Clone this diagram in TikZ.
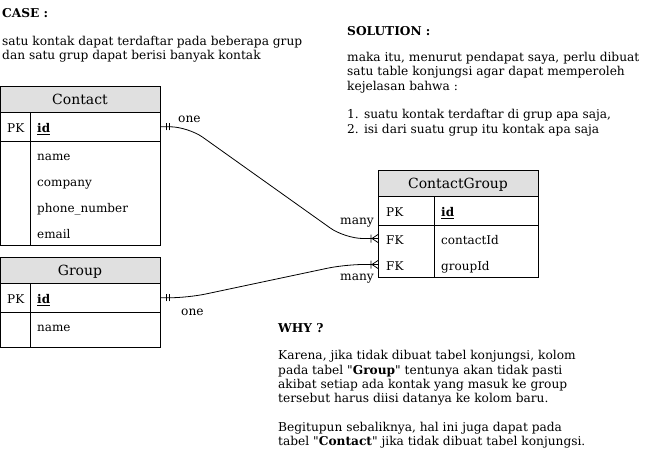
\documentclass[tikz,border=0pt]{standalone}
\usepackage{fontspec}
\setmainfont{DejaVu Serif}
\usetikzlibrary{positioning}
\definecolor{headgray}{HTML}{E0E0E0}
\tikzset{
  % multi-line texts: base = baseline of last line
  txt/.style = {align=left, inner sep=0pt, anchor=base west, font=\fontsize{12.2}{14.3}\selectfont},
  % table parts: header, key row, attribute block
  tbl/.style = {draw=black, line width=0.9pt, inner sep=0pt, outer sep=0pt},
  tbl_head/.style = {tbl, fill=headgray, minimum height=26pt, text height=10pt, text depth=0pt, font=\fontsize{14}{16}\selectfont},
  tbl_key/.style = {tbl, minimum height=29.5pt},
  field/.style = {inner sep=0pt, anchor=west, text height=12pt, text depth=0pt, font=\fontsize{12}{14}\selectfont},
  rel/.style = {draw=black, line width=0.8pt, rounded corners=18pt},
  % one / many ends
  mark_one/.pic = {\draw[line width=0.8pt] (6pt,-3.5pt) -- (6pt,3.5pt) (9pt,-3.5pt) -- (9pt,3.5pt);},
  mark_many/.pic = {\draw[line width=0.8pt] (-7pt,-4pt) -- (-7pt,4pt) (0pt,-4pt) -- (-6pt,0pt) -- (0pt,4pt);}
}
\newcommand{\qt}{\textquotedbl}

\begin{document}
\begin{tikzpicture}[x=1pt,y=-1pt]
  \useasboundingbox (0,0) rectangle (648,451);

  % Texts:
  \node[txt] (case) at (2,17) {\textbf{CASE :}};
  \node[txt] (case_text) at (2,59.3) {satu kontak dapat terdaftar pada beberapa grup\\dan satu grup dapat berisi banyak kontak};
  \node[txt] (solution) at (347,35) {\textbf{SOLUTION :}};
  \node[txt] (solution_text) at (347,133) {maka itu, menurut pendapat saya, perlu dibuat\\satu table konjungsi agar dapat memperoleh\\kejelasan bahwa :\\[14.3pt]1. suatu kontak terdaftar di grup apa saja,\\2. isi dari suatu grup itu kontak apa saja};
  \node[txt] (why) at (278,332.5) {\textbf{WHY ?}};
  \node[txt] (why_text) at (278,445.6) {Karena, jika tidak dibuat tabel konjungsi, kolom\\pada tabel \qt\textbf{Group}\qt{} tentunya akan tidak pasti\\akibat setiap ada kontak yang masuk ke group\\tersebut harus diisi datanya ke kolom baru.\\[14.3pt]Begitupun sebaliknya, hal ini juga dapat pada\\tabel \qt\textbf{Contact}\qt{} jika tidak dibuat tabel konjungsi.};

  % Contact table:
  \node[tbl_head, minimum width=160pt, anchor=north west] (contact) at (0,86) {Contact};
  \node[tbl_key, minimum width=160pt, below=0pt of contact] (contact_key) {};
  \node[tbl, minimum width=160pt, minimum height=104pt, below=0pt of contact_key] (contact_attr) {};
  \draw[tbl] ([xshift=30pt]contact_key.north west) -- ([xshift=30pt]contact_attr.south west);
  \node[field] (contact_pk) at ([xshift=7pt]contact_key.west) {PK};
  \node[field] (contact_id) at ([xshift=37pt]contact_key.west) {\underline{\textbf{id}}};
  \foreach \f [count=\i] in {name, company, phone\_number, email}
    \node[field] (contact_f\i) at ([xshift=37pt, yshift={-13pt-26pt*(\i-1)}]contact_attr.north west) {\f};

  % Group table:
  \node[tbl_head, minimum width=160pt, anchor=north west] (group) at (0,257) {Group};
  \node[tbl_key, minimum width=160pt, below=0pt of group] (group_key) {};
  \node[tbl, minimum width=160pt, minimum height=35pt, below=0pt of group_key] (group_attr) {};
  \draw[tbl] ([xshift=30pt]group_key.north west) -- ([xshift=30pt]group_attr.south west);
  \node[field] (group_pk) at ([xshift=7pt]group_key.west) {PK};
  \node[field] (group_id) at ([xshift=37pt]group_key.west) {\underline{\textbf{id}}};
  \node[field] (group_f1) at ([xshift=37pt, yshift=-13pt]group_attr.north west) {name};

  % ContactGroup table:
  \node[tbl_head, minimum width=160pt, anchor=north west] (cg) at (378,170) {ContactGroup};
  \node[tbl_key, minimum width=160pt, below=0pt of cg] (cg_key) {};
  \node[tbl, minimum width=160pt, minimum height=52pt, below=0pt of cg_key] (cg_attr) {};
  \draw[tbl] ([xshift=56pt]cg_key.north west) -- ([xshift=56pt]cg_attr.south west);
  \node[field] (cg_pk) at ([xshift=8pt]cg_key.west) {PK};
  \node[field] (cg_id) at ([xshift=63pt]cg_key.west) {\underline{\textbf{id}}};
  \node[field] (cg_fk1) at ([xshift=8pt, yshift=-13pt]cg_attr.north west) {FK};
  \node[field] (cg_f1) at ([xshift=63pt, yshift=-13pt]cg_attr.north west) {contactId};
  \node[field] (cg_fk2) at ([xshift=8pt, yshift=-39pt]cg_attr.north west) {FK};
  \node[field] (cg_f2) at ([xshift=63pt, yshift=-39pt]cg_attr.north west) {groupId};

  % Relations:
  \coordinate (cg_in1) at (cg_fk1 -| cg_attr.west);
  \coordinate (cg_in2) at (cg_fk2 -| cg_attr.west);
  \draw[rel] (contact_key.east) -- ++(28,0) -- ([xshift=-33pt]cg_in1) -- (cg_in1);
  \draw[rel] (group_key.east) -- ++(28,0) -- ([xshift=-33pt]cg_in2) -- (cg_in2);
  \pic at (contact_key.east) {mark_one};
  \pic at (group_key.east) {mark_one};
  \pic at (cg_in1) {mark_many};
  \pic at (cg_in2) {mark_many};
  \node[txt] (one1) at (178,122) {one};
  \node[txt] (many1) at (340,224) {many};
  \node[txt] (many2) at (340,280) {many};
  \node[txt] (one2) at (181,315.5) {one};
\end{tikzpicture}
\end{document}
